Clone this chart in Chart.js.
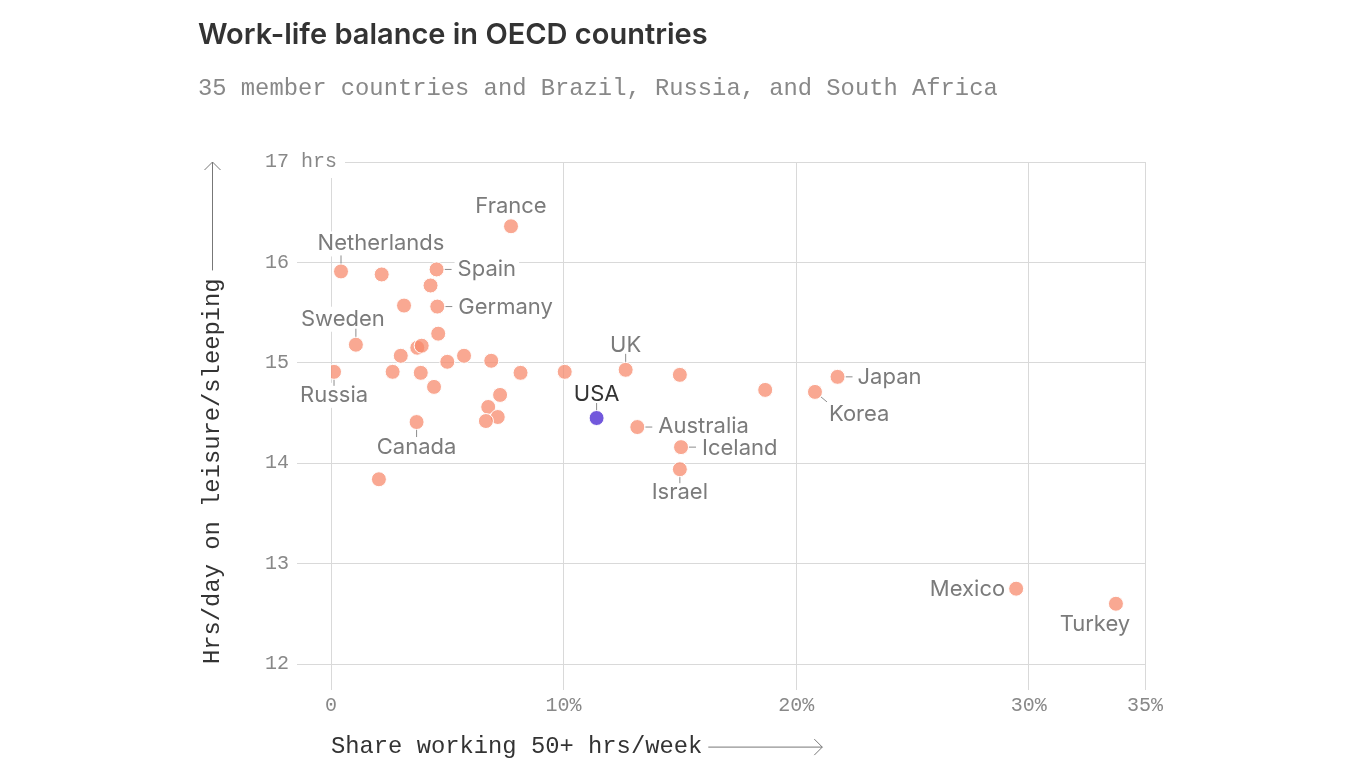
<!DOCTYPE html>
<html>
<head>
<meta charset="utf-8">
<title>Work-life balance in OECD countries</title>
<script src="https://cdn.jsdelivr.net/npm/chart.js@4.4.1/dist/chart.umd.min.js"></script>
<style>
  html, body { margin: 0; padding: 0; background: #fff; }
  #wrap { position: relative; width: 1366px; height: 768px; overflow: hidden; }
  #title { position: absolute; left: 198px; top: 14px; font: 600 29px/40px Inter, Lato, sans-serif; color: #333; white-space: nowrap; }
  #subtitle { position: absolute; left: 198px; top: 74px; font: 23.8px/30px "Liberation Mono", monospace; color: #888; white-space: nowrap; }
  #chartBox { position: absolute; left: 0; top: 0; width: 1366px; height: 768px; }
</style>
</head>
<body>
<div id="wrap">
  <div id="chartBox"><canvas id="workLifeChart"></canvas></div>
  <div id="title">Work-life balance in OECD countries</div>
  <div id="subtitle">35 member countries and Brazil, Russia, and South Africa</div>
</div>

<script>
// share of employees working 50+ hrs/week (%) and hrs/day on leisure & sleeping
// null name = point shown without a label
const countries = [
  "France", "Netherlands", null, "Spain", null, null, "Germany", null,
  "Sweden", null, null, null, null, null, null, "Russia",
  null, null, null, null, null, null, null, null,
  null, "Canada", null, "UK", null, null, "Australia", "Iceland",
  "Israel", "Korea", "Japan", "Mexico", "Turkey"
];
const shareLongHours = [
  7.74, 0.43, 2.18, 4.54, 4.28, 3.14, 4.57, 4.61,
  1.07, 3.71, 3.90, 3.00, 5.72, 5.00, 6.89, 0.13,
  2.65, 3.86, 8.15, 10.05, 4.43, 7.27, 6.76, 7.17,
  6.66, 3.68, 2.06, 12.67, 15.00, 18.67, 13.17, 15.05,
  15.00, 20.81, 21.78, 29.46, 33.75
];
const leisureHours = [
  16.36, 15.91, 15.88, 15.93, 15.77, 15.57, 15.56, 15.29,
  15.18, 15.15, 15.17, 15.07, 15.07, 15.01, 15.02, 14.91,
  14.91, 14.90, 14.90, 14.91, 14.76, 14.68, 14.56, 14.46,
  14.42, 14.41, 13.84, 14.93, 14.88, 14.73, 14.36, 14.16,
  13.94, 14.71, 14.86, 12.75, 12.60
];

const usaName = ["USA"];
const usaShare = [11.42];
const usaLeisure = [14.45];

const xTicks = [0, 10, 20, 30, 35];
const yTicks = [12, 13, 14, 15, 16, 17];

// where each label sits relative to its dot (px), and the little leader line
const labelPlacement = {
  France:      { dx: 0,   dy: -13, align: "center" },
  Netherlands: { dx: 40,  dy: -21, align: "center", leader: [0, -7, 0, -16] },
  Spain:       { dx: 21,  dy: 7,   align: "left",   leader: [8, 0, 15, 0] },
  Germany:     { dx: 21,  dy: 7.5, align: "left",   leader: [8, 0, 15, 0] },
  Sweden:      { dx: -13, dy: -19, align: "center", leader: [0, -7, 0, -16] },
  Russia:      { dx: 0,   dy: 30,  align: "center", leader: [0, 7, 0, 14] },
  Canada:      { dx: 0,   dy: 32,  align: "center", leader: [0, 7, 0, 15] },
  UK:          { dx: 0,   dy: -18, align: "center", leader: [0, -7, 0, -16] },
  USA:         { dx: 0,   dy: -17, align: "center", leader: [0, -7, 0, -15], color: "#333" },
  Australia:   { dx: 21,  dy: 5.5, align: "left",   leader: [8, 0, 15, 0] },
  Iceland:     { dx: 21,  dy: 7.5, align: "left",   leader: [8, 0, 15, 0] },
  Israel:      { dx: 0,   dy: 30,  align: "center", leader: [0, 7, 0, 14] },
  Japan:       { dx: 20,  dy: 7.5, align: "left",   leader: [8, 0, 15, 0] },
  Korea:       { dx: 14,  dy: 29,  align: "left",   leader: [6, 5, 12, 10] },
  Mexico:      { dx: -11, dy: 7.5, align: "right" },
  Turkey:      { dx: -21, dy: 27,  align: "center" }
};

const monoFont = "'Liberation Mono', 'DejaVu Sans Mono', monospace";
const labelFont = "22px Inter, Lato, sans-serif";

const countryLabels = {
  id: "countryLabels",
  beforeDatasetsDraw(chart) {
    const ctx = chart.ctx;
    ctx.save();
    ctx.font = labelFont;
    ctx.textBaseline = "alphabetic";
    chart.data.datasets.forEach((ds, di) => {
      const meta = chart.getDatasetMeta(di);
      ds.names.forEach((name, i) => {
        const spot = labelPlacement[name];
        if (!name || !spot) return;
        const pt = meta.data[i];
        const w = ctx.measureText(name).width;
        const bx = pt.x + spot.dx;
        const by = pt.y + spot.dy;
        let left = bx;
        if (spot.align === "center") left = bx - w / 2;
        if (spot.align === "right") left = bx - w;
        ctx.fillStyle = "#fff";
        ctx.fillRect(left - 3, by - 19, w + 6, 25);
        ctx.fillStyle = spot.color || "#7b7b7b";
        ctx.textAlign = "left";
        ctx.fillText(name, left, by);
        if (spot.leader) {
          const l = spot.leader;
          ctx.strokeStyle = "#8c8c8c";
          ctx.lineWidth = 1;
          ctx.beginPath();
          ctx.moveTo(pt.x + l[0], pt.y + l[1]);
          ctx.lineTo(pt.x + l[2], pt.y + l[3]);
          ctx.stroke();
        }
      });
    });
    ctx.restore();
  }
};

const axisArrows = {
  id: "axisArrows",
  afterDraw(chart) {
    const { ctx, chartArea, scales: { x, y } } = chart;
    ctx.save();
    ctx.strokeStyle = "#777";
    ctx.lineWidth = 1;
    ctx.font = "23.8px " + monoFont;

    // x arrow, after the axis title
    const xw = ctx.measureText(x.options.title.text).width;
    const ay = x.bottom - 14.4 - 1;
    const x0 = x.left + xw + 6;
    const x1 = x0 + 114;
    ctx.beginPath();
    ctx.moveTo(x0, ay + 0.5); ctx.lineTo(x1, ay + 0.5);
    ctx.moveTo(x1 - 8, ay - 7.5); ctx.lineTo(x1, ay + 0.5); ctx.lineTo(x1 - 8, ay + 8.5);
    ctx.stroke();

    // y arrow, above the rotated title
    const yw = ctx.measureText(y.options.title.text).width;
    const ax = Math.round(y.left + 14.4 + 8) + 0.5;
    const y0 = chartArea.bottom - yw - 8;
    const y1 = chartArea.top;
    ctx.beginPath();
    ctx.moveTo(ax, y0); ctx.lineTo(ax, y1);
    ctx.moveTo(ax - 8, y1 + 8); ctx.lineTo(ax, y1); ctx.lineTo(ax + 8, y1 + 8);
    ctx.stroke();
    ctx.restore();
  }
};

const pts = (xs, ys) => xs.map((v, i) => ({ x: v, y: ys[i] }));

new Chart(document.getElementById("workLifeChart"), {
  type: "scatter",
  data: {
    datasets: [
      {
        label: "Other countries",
        names: countries,
        data: pts(shareLongHours, leisureHours),
        backgroundColor: "rgba(246, 134, 104, 0.72)",
        borderColor: "#fff",
        borderWidth: 1,
        pointRadius: 7.5,
        pointHoverRadius: 7.5
      },
      {
        label: "USA",
        names: usaName,
        data: pts(usaShare, usaLeisure),
        backgroundColor: "#7258dc",
        borderColor: "#fff",
        borderWidth: 1,
        pointRadius: 7.5,
        pointHoverRadius: 7.5
      }
    ]
  },
  options: {
    responsive: true,
    maintainAspectRatio: false,
    animation: false,
    events: [],
    layout: { padding: { left: 190, right: 221, top: 162, bottom: 6 } },
    plugins: { legend: { display: false }, tooltip: { enabled: false } },
    scales: {
      x: {
        type: "linear",
        min: 0,
        max: 35,
        afterBuildTicks: (s) => { s.ticks = xTicks.map((v) => ({ value: v })); },
        afterFit: (s) => { s.height = 98; },
        grid: { color: "#d9d9d9", tickLength: 26, tickColor: "#d9d9d9" },
        border: { display: false },
        ticks: {
          maxRotation: 0,
          padding: 4,
          color: "#888",
          font: { family: monoFont, size: 20 },
          callback: (v) => (v === 0 ? "0" : v + "%")
        },
        title: {
          display: true,
          text: "Share working 50+ hrs/week",
          align: "start",
          color: "#333",
          font: { family: monoFont, size: 23.8 },
          padding: { top: 0, bottom: 1 }
        }
      },
      y: {
        type: "linear",
        min: 12,
        max: 17,
        afterBuildTicks: (s) => { s.ticks = yTicks.map((v) => ({ value: v })); },
        afterFit: (s) => { s.width = 141; },
        grid: { color: "#d9d9d9", tickLength: 35, tickColor: "#d9d9d9" },
        border: { display: false },
        ticks: {
          mirror: true,
          padding: -66,
          color: "#888",
          font: { family: monoFont, size: 20 },
          showLabelBackdrop: true,
          backdropColor: "#fff",
          backdropPadding: { top: 4, bottom: 4, left: 2, right: 8 },
          callback: (v) => (v === 17 ? "17 hrs" : String(v))
        },
        title: {
          display: true,
          text: "Hrs/day on leisure/sleeping",
          align: "start",
          color: "#333",
          font: { family: monoFont, size: 23.8 },
          padding: { top: 8, bottom: 0 }
        }
      }
    }
  },
  plugins: [countryLabels, axisArrows]
});
</script>
</body>
</html>
